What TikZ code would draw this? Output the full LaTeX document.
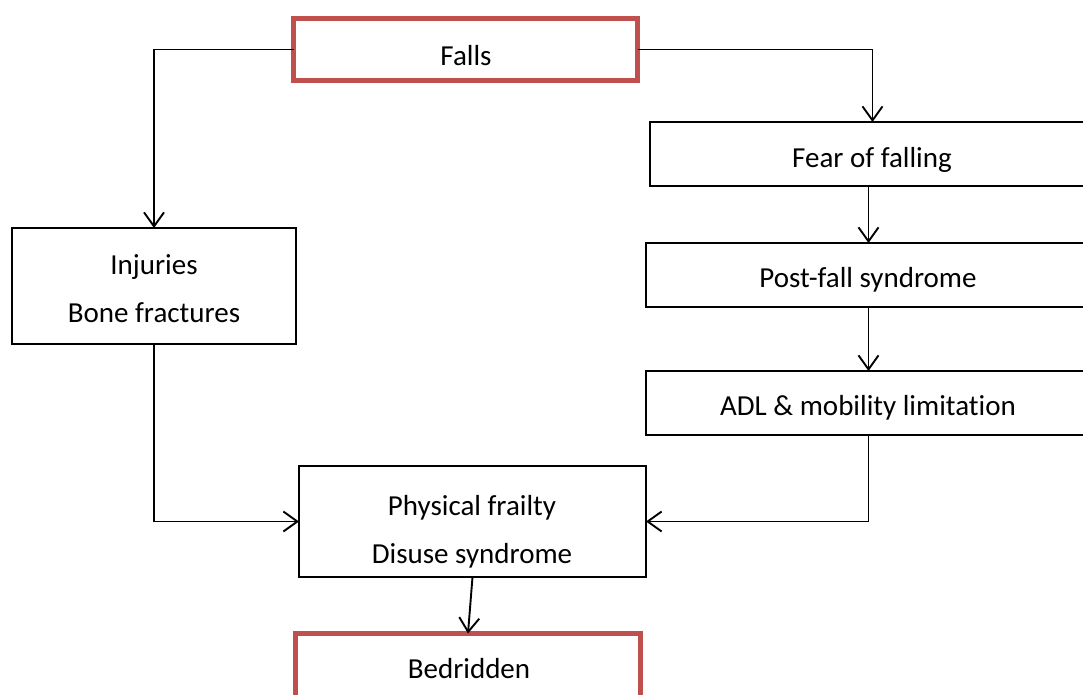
\documentclass[tikz,border=0pt]{standalone}
\usepackage{fontspec}
\setmainfont{Carlito}[Ligatures={NoCommon,NoContextual}]
\usetikzlibrary{arrows.meta}
\definecolor{boxred}{RGB}{192,80,77}
\begin{document}
\begin{tikzpicture}[x=1pt,y=-1pt,
  box/.style={draw=black,line width=2.2pt,fill=white,inner sep=0pt,outer sep=0pt},
  redbox/.style={box,draw=boxred,line width=5pt},
  txt/.style={inner sep=0pt,align=center,font=\fontsize{29}{48}\selectfont},
  arr/.style={line width=1.9pt,-{Straight Barb[length=14pt,width=20pt,line width=1.9pt]}}]
\useasboundingbox (0,0) rectangle (1083,695);
\begin{scope}
\clip (0,0) rectangle (1083,695);
\node[redbox,minimum width=344pt,minimum height=62pt] (falls) at (465.5,49.5) {};
\node[box,minimum width=445pt,minimum height=64pt] (fear) at (872.5,154) {};
\node[box,minimum width=445pt,minimum height=64pt] (post) at (868.5,275) {};
\node[box,minimum width=445pt,minimum height=64pt] (adl) at (868.5,403) {};
\node[box,minimum width=284pt,minimum height=116pt] (inj) at (154,286) {};
\node[box,minimum width=347pt,minimum height=111pt] (phys) at (472.5,521.5) {};
\node[redbox,minimum width=345pt,minimum height=69pt] (bed) at (468,668) {};
\node[txt] (tfalls) at (466,56) {Falls};
\node[txt] (tfear) at (872,160) {Fear of falling};
\node[txt] (tpost) at (868,280) {Post-fall syndrome};
\node[txt] (tadl) at (868,408) {ADL \& mobility limitation};
\node[txt] (tinj) at (154,289) {Injuries\\Bone fractures};
\node[txt] (tphys) at (472,532) {Physical frailty\\Disuse syndrome};
\node[txt] (tbed) at (469,669) {Bedridden};
\draw[arr] (falls.west) -| (inj.north);
\draw[arr] (falls.east) -| (fear.north);
\draw[arr] (fear.south -| post.north) -- (post.north);
\draw[arr] (post.south) -- (adl.north);
\draw[arr] (adl.south) |- (phys.east);
\draw[arr] (inj.south) |- (phys.west);
\draw[arr] (phys.south) -- (bed.north);
\end{scope}
\end{tikzpicture}
\end{document}
